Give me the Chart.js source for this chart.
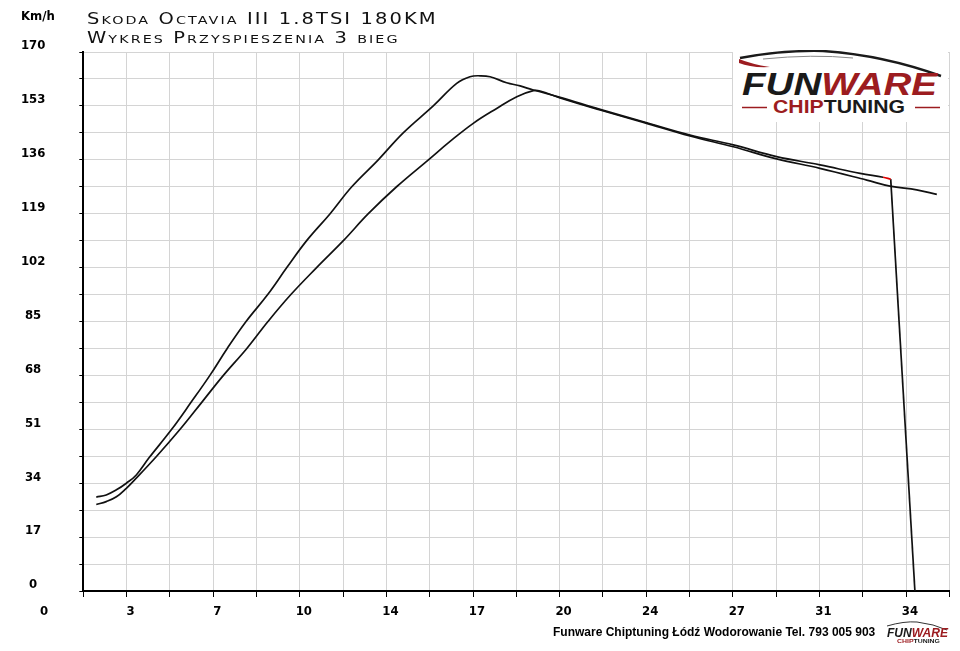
<!DOCTYPE html>
<html><head><meta charset="utf-8">
<style>
html,body{margin:0;padding:0;background:#fff;}
#wrap{position:relative;width:960px;height:651px;overflow:hidden;background:#fff;}
#c{position:absolute;left:0;top:0;}
#title{position:absolute;left:87px;top:10px;font-family:"DejaVu Sans";font-variant:small-caps;font-size:15px;line-height:19px;letter-spacing:1.6px;color:#111;white-space:nowrap;transform:scaleX(1.3);transform-origin:0 0;}
#unit{position:absolute;left:21px;top:8px;font-family:"DejaVu Sans Condensed","DejaVu Sans";font-weight:bold;font-size:13px;color:#000;}
#footer{position:absolute;left:553px;top:625px;font-family:"Liberation Sans";font-weight:bold;font-size:12px;color:#000;white-space:nowrap;}
#logo{position:absolute;left:733px;top:50px;width:215px;height:72px;background:#fff;}
#logo2{position:absolute;left:884px;top:620px;width:66px;height:28px;}
</style>
<script src="https://cdn.jsdelivr.net/npm/chart.js@4/dist/chart.umd.min.js"></script>
</head><body>
<div id="wrap">
<canvas id="c" width="960" height="651"></canvas>
<div id="unit">Km/h</div>
<div id="title">Skoda Octavia III 1.8TSI 180KM<br>Wykres Przyspieszenia 3 bieg</div>
<div id="logo"><svg width="215" height="72" viewBox="0 0 215 72">
<path d="M7 8 Q50 0 90 1 Q150 5 208 26" fill="none" stroke="#1a1a1a" stroke-width="2.4"/>
<path d="M30 9 Q80 4 120 8" fill="none" stroke="#888" stroke-width="1"/>
<path d="M6 9 Q18 14 37 17 Q18 18 6 13 Z" fill="#9c1c20"/>
<text x="9" y="45" font-family="Liberation Sans" font-weight="bold" font-style="italic" font-size="31" textLength="195" lengthAdjust="spacingAndGlyphs"><tspan fill="#1a1a1a">FUN</tspan><tspan fill="#9c1c20">WARE</tspan></text>
<line x1="9" y1="57.5" x2="34" y2="57.5" stroke="#9c1c20" stroke-width="1.5"/>
<line x1="182" y1="57.5" x2="207" y2="57.5" stroke="#9c1c20" stroke-width="1.5"/>
<text x="40" y="63" font-family="Liberation Sans" font-weight="bold" font-size="17.5" textLength="132" lengthAdjust="spacingAndGlyphs"><tspan fill="#9c1c20">CHIP</tspan><tspan fill="#1a1a1a">TUNING</tspan></text>
</svg></div>
<div id="footer">Funware Chiptuning Łódź Wodorowanie Tel. 793 005 903</div>
<div id="logo2"><svg width="66" height="28" viewBox="0 0 66 28">
<path d="M3 6 Q20 1 33 2 Q50 4 63 10" fill="none" stroke="#333" stroke-width="1"/>
<text x="3" y="17" font-family="Liberation Sans" font-weight="bold" font-style="italic" font-size="12" textLength="61" lengthAdjust="spacingAndGlyphs"><tspan fill="#1a1a1a">FUN</tspan><tspan fill="#9c1c20">WARE</tspan></text>
<text x="13" y="23" font-family="Liberation Sans" font-weight="bold" font-size="5.5" textLength="43" lengthAdjust="spacingAndGlyphs"><tspan fill="#9c1c20">CHIP</tspan><tspan fill="#1a1a1a">TUNING</tspan></text>
</svg></div>
</div>
<script>
// grid step of the time axis (seconds) and the labels shown on the axes
const xStep = 1.7;
const xTickLabels = ['0','3','7','10','14','17','20','24','27','31','34'];
const yTickLabels = ['0','17','34','51','68','85','102','119','136','153','170'];

// run A (faster run, ends with a drop to zero)
const timeA  = [2.21, 2.60, 3.00, 3.39, 3.78, 4.28, 5.17, 5.93, 6.67, 7.35, 8.09, 8.94, 9.69, 10.47, 11.39, 12.24, 13.28, 14.26, 15.44, 16.36, 16.88, 17.28, 17.67, 18.32, 18.85, 19.37, 20.42, 21.99, 23.69, 25.52, 27.22, 28.92, 30.62, 32.20, 33.10, 33.40, 34.35];
const speedA = [29.6, 30.3, 31.9, 34.0, 36.6, 42.0, 51, 59.5, 68, 76.5, 85, 93.5, 102, 110.5, 119, 127.5, 136, 144.5, 153, 160.1, 162.2, 162.5, 162.2, 160.3, 159.3, 158.0, 155.7, 151.9, 148.0, 143.8, 140.7, 137.0, 134.4, 131.7, 130.5, 129.9, 0];
const redSegmentStart = 34; // index in run A where the short red piece begins

// run B (slower run)
const timeB  = [2.21, 2.60, 3.00, 3.39, 3.65, 4.58, 5.50, 6.35, 7.20, 8.12, 8.95, 9.85, 10.86, 11.91, 12.89, 14.00, 15.25, 16.10, 17.01, 17.93, 18.72, 19.37, 19.63, 20.42, 21.99, 23.69, 25.52, 27.22, 28.92, 30.62, 32.46, 33.37, 34.42, 35.21];
const speedB = [27.3, 28.2, 29.7, 32.4, 34.5, 42.5, 51, 59.5, 68, 76.5, 85, 93.5, 102, 110.5, 119, 127.5, 136, 141.8, 147.5, 152.2, 155.9, 157.8, 157.7, 155.5, 151.7, 147.8, 143.5, 140.1, 136.3, 133.3, 129.6, 127.7, 126.5, 125.1];

const tickFont = {family:'"DejaVu Sans Condensed","DejaVu Sans"', weight:'bold', size:13};
const xTickLen = 6, xTickPad = 7;

const pts = (ts, vs) => ts.map((t,i)=>({x:t, y:vs[i]}));
const runA = pts(timeA, speedA);

const zeroLabel = {
  id:'zeroLabel',
  afterDraw(chart){
    const s = chart.scales.x, ctx = chart.ctx;
    ctx.save();
    ctx.font = 'bold 13px "DejaVu Sans Condensed","DejaVu Sans"';
    ctx.fillStyle = '#000';
    ctx.textAlign = 'center';
    ctx.textBaseline = 'middle';
    ctx.fillText(xTickLabels[0], s.getPixelForValue(0) + 4, s.top + xTickLen + xTickPad + 13*1.2/2);
    ctx.restore();
  }
};

new Chart(document.getElementById('c'), {
  type:'line',
  data:{datasets:[
    {data: runA.slice(0, -1), borderColor:'#111', borderWidth:1.7, pointRadius:0, tension:0.4,
     segment:{borderColor: c => c.p0DataIndex === redSegmentStart ? '#e00000' : undefined}},
    {data: runA.slice(-2), borderColor:'#111', borderWidth:1.7, pointRadius:0, tension:0},
    {data: pts(timeB, speedB), borderColor:'#111', borderWidth:1.7, pointRadius:0, tension:0.4}
  ]},
  options:{
    responsive:false, animation:false, devicePixelRatio:1,
    layout:{padding:{left:0, right:10.7, top:52, bottom:0}},
    plugins:{legend:{display:false}, tooltip:{enabled:false}, title:{display:false}},
    scales:{
      x:{type:'linear', min:xStep, max:xStep*21,
        afterBuildTicks: s => { s.ticks = Array.from({length:21}, (_,i)=>({value: xStep*(i+1)})); },
        afterFit: s => { s.height = 60; },
        grid:{color:'#d4d4d4', lineWidth:1, tickColor:'#000', tickLength:xTickLen, drawTicks:true},
        border:{color:'#000', width:2},
        ticks:{font:tickFont, color:'#000', padding:xTickPad, labelOffset:4, maxRotation:0, autoSkip:false,
          callback:(v,i)=> i % 2 === 1 ? xTickLabels[(i+1)/2] : ''}
      },
      y:{min:0, max:170,
        afterFit: s => { s.width = 83.3; },
        grid:{color:'#d4d4d4', lineWidth:1, tickColor:'#000', tickLength:4, drawTicks:true},
        border:{color:'#000', width:2},
        ticks:{stepSize:8.5, font:tickFont, color:'#000', padding:34, labelOffset:-6, crossAlign:'center', autoSkip:false,
          callback:(v,i)=> i % 2 === 0 ? yTickLabels[i/2] : ''}
      }
    }
  },
  plugins:[zeroLabel]
});
</script>
</body></html>
